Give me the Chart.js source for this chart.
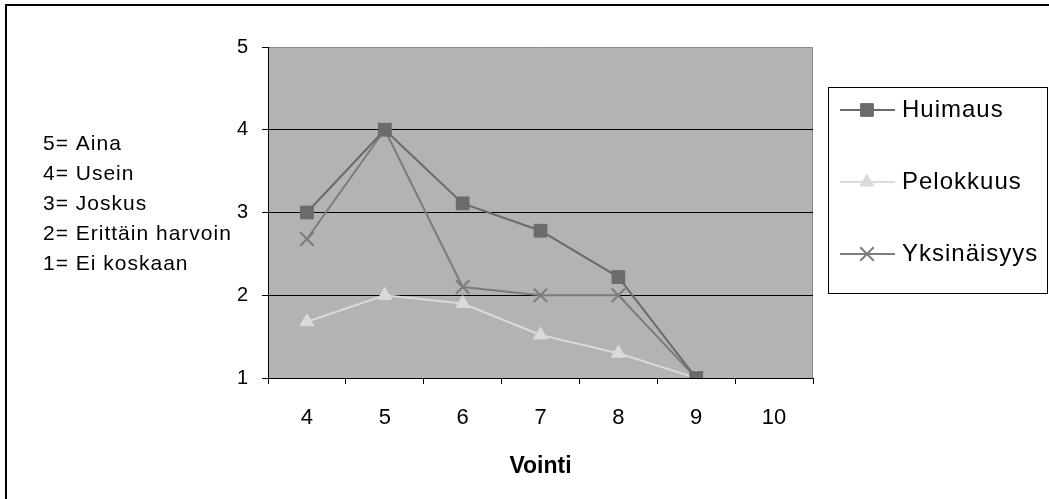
<!DOCTYPE html>
<html>
<head>
<meta charset="utf-8">
<title>Vointi</title>
<script src="https://cdn.jsdelivr.net/npm/chart.js@4"></script>
<style>
  html, body { margin: 0; padding: 0; background: #fff; }
  #wrap { width: 1049px; height: 499px; position: relative; }
</style>
</head>
<body>
<div id="wrap"><canvas id="chart"></canvas></div>
<script>
// x categories (Vointi) and y tick values
var categories = ['4', '5', '6', '7', '8', '9', '10'];
var yTicks = [1, 2, 3, 4, 5];

// series, one value per category (null = no value)
var huimaus     = [3.0, 4.0, 3.11, 2.78, 2.22, 1.0, null];
var pelokkuus   = [1.68, 2.0, 1.90, 1.52, 1.30, 1.0, null];
var yksinaisyys = [2.68, 4.0, 2.10, 2.0, 2.0, 1.0, null];

// scale explanation shown left of the plot
var scaleNotes = ['5= Aina', '4= Usein', '3= Joskus', '2= Erittäin harvoin', '1= Ei koskaan'];

var FONT = '"Liberation Sans", Arial, sans-serif';

// grey plot background, frame around everything, notes on the left
var decor = {
    id: 'decor',
    beforeDraw: function (chart) {
        var ctx = chart.ctx, a = chart.chartArea;
        ctx.save();
        ctx.fillStyle = '#b3b3b3';
        ctx.fillRect(a.left, a.top, a.right - a.left, a.bottom - a.top);
        ctx.strokeStyle = '#8c8c8c';
        ctx.lineWidth = 1;
        ctx.beginPath();
        ctx.moveTo(a.left, a.top + 0.5);
        ctx.lineTo(a.right - 0.5, a.top + 0.5);
        ctx.lineTo(a.right - 0.5, a.bottom);
        ctx.stroke();

        ctx.strokeStyle = '#000';
        ctx.lineWidth = 2;
        ctx.beginPath();
        ctx.moveTo(6, 499);
        ctx.lineTo(6, 5);
        ctx.lineTo(1049, 5);
        ctx.stroke();

        ctx.fillStyle = '#000';
        ctx.font = '21px ' + FONT;
        ctx.letterSpacing = '1px';
        ctx.textBaseline = 'middle';
        ctx.textAlign = 'left';
        scaleNotes.forEach(function (t, i) {
            ctx.fillText(t, 43, 144 + i * 30);
        });
        ctx.restore();
    }
};

// boxed legend, each entry a short line with the marker in the middle
var boxLegend = {
    id: 'boxLegend',
    afterDraw: function (chart) {
        var ctx = chart.ctx;
        var bx = 828, by = 87, bw = 219, bh = 206;
        ctx.save();
        ctx.fillStyle = '#fff';
        ctx.fillRect(bx, by, bw, bh);
        ctx.strokeStyle = '#000';
        ctx.lineWidth = 1;
        ctx.strokeRect(bx + 0.5, by + 0.5, bw, bh);
        var rows = [110, 182, 254];
        chart.data.datasets.forEach(function (ds, i) {
            var y = rows[i];
            ctx.strokeStyle = ds.borderColor;
            ctx.lineWidth = 2;
            ctx.beginPath();
            ctx.moveTo(840, y);
            ctx.lineTo(895, y);
            ctx.stroke();
            ctx.fillStyle = ds.pointBackgroundColor;
            ctx.strokeStyle = ds.pointBorderColor;
            ctx.lineWidth = ds.pointBorderWidth;
            Chart.helpers.drawPoint(ctx, {
                pointStyle: ds.pointStyle,
                radius: ds.pointRadius,
                borderWidth: ds.pointBorderWidth
            }, 867, y);
            ctx.fillStyle = '#000';
            ctx.font = '24px ' + FONT;
            ctx.letterSpacing = '1px';
            ctx.textBaseline = 'middle';
            ctx.fillText(ds.label, 902, y);
        });
        ctx.restore();
    }
};

function series(label, data, color, style, radius, borderW) {
    return {
        label: label,
        data: data,
        borderColor: color,
        backgroundColor: color,
        pointBackgroundColor: color,
        pointBorderColor: color,
        pointStyle: style,
        pointRadius: radius,
        pointHoverRadius: radius,
        pointBorderWidth: borderW,
        borderWidth: 2,
        tension: 0
    };
}

var ctx = document.getElementById('chart').getContext('2d');
new Chart(ctx, {
    type: 'line',
    data: {
        labels: categories,
        datasets: [
            series('Huimaus', huimaus, '#6b6b6b', 'rect', 9, 1),
            series('Pelokkuus', pelokkuus, '#dadada', 'triangle', 8, 1),
            series('Yksinäisyys', yksinaisyys, '#7c7c7c', 'crossRot', 9.5, 2)
        ]
    },
    options: {
        responsive: true,
        maintainAspectRatio: false,
        animation: false,
        layout: { padding: { left: 228, top: 47, right: 236, bottom: 19 } },
        plugins: {
            legend: { display: false },
            tooltip: { enabled: false }
        },
        scales: {
            x: {
                offset: true,
                grid: {
                    offset: true,
                    drawOnChartArea: false,
                    tickLength: 6,
                    tickColor: '#000'
                },
                border: { display: true, color: '#000', width: 1 },
                ticks: {
                    color: '#000',
                    padding: 21,
                    font: { family: FONT, size: 22 }
                },
                title: {
                    display: true,
                    text: 'Vointi',
                    color: '#000',
                    padding: { top: 0, bottom: 0 },
                    font: { family: FONT, size: 23, weight: 'bold' }
                },
                afterFit: function (s) { s.height = 102; }
            },
            y: {
                min: yTicks[0],
                max: yTicks[yTicks.length - 1],
                afterBuildTicks: function (s) {
                    s.ticks = yTicks.map(function (v) { return { value: v }; });
                },
                grid: {
                    color: function (c) {
                        return c.tick && c.tick.value === 5 ? 'rgba(0,0,0,0)' : '#000';
                    },
                    tickColor: '#000',
                    tickLength: 6
                },
                border: { display: true, color: '#000', width: 1 },
                ticks: {
                    color: '#000',
                    padding: 14,
                    font: { family: FONT, size: 20 }
                },
                afterFit: function (s) { s.width = 40; }
            }
        }
    },
    plugins: [decor, boxLegend]
});
</script>
</body>
</html>
